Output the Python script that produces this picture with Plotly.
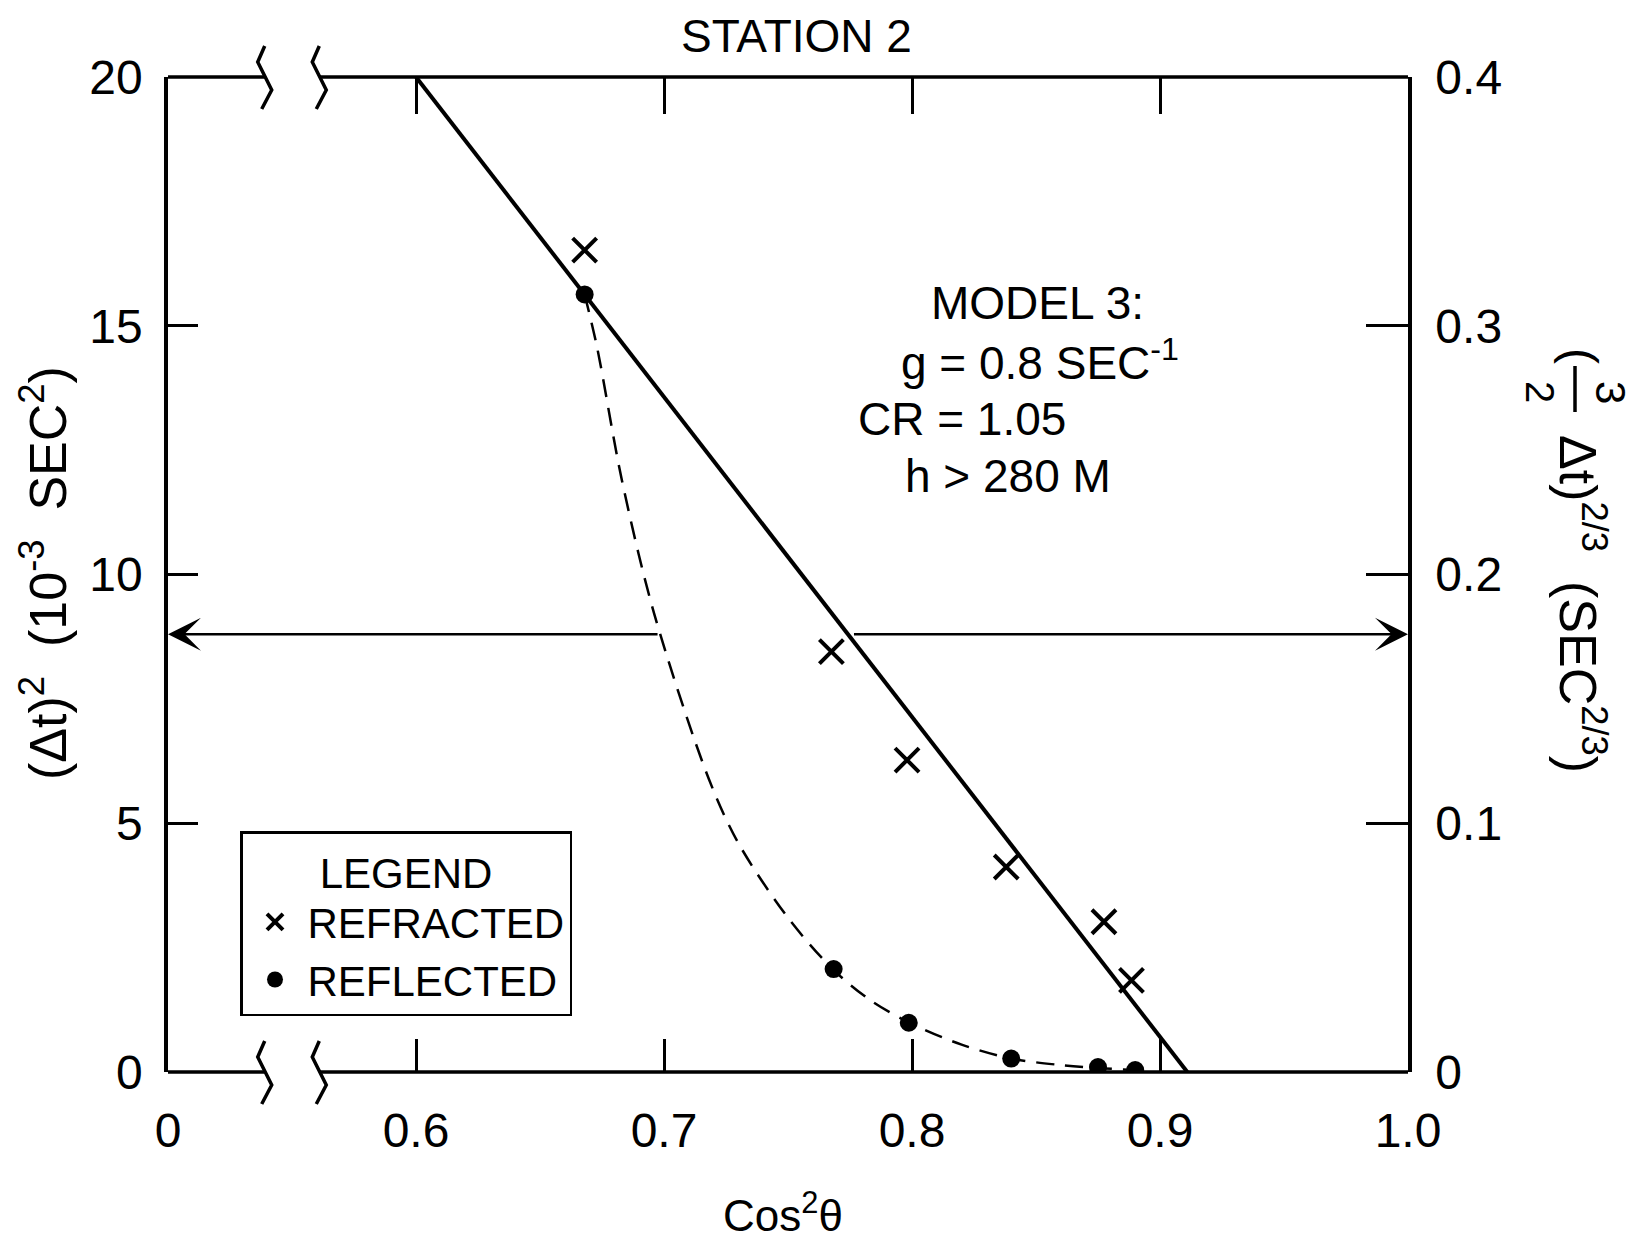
import plotly.graph_objects as go

# ---- data -------------------------------------------------------------
# Refracted arrivals (x marks)
refr_x = [0.668, 0.7675, 0.798, 0.838, 0.8774, 0.8885]
refr_y = [16.52, 8.45, 6.27, 4.12, 3.02, 1.84]

# Reflected arrivals (dots)
refl_x = [0.668, 0.7684, 0.7987, 0.840, 0.875, 0.890]
refl_y = [15.63, 2.07, 0.99, 0.27, 0.10, 0.04]

# Model curve for the reflected arrivals (dashed)
model_x = [0.668, 0.673, 0.683, 0.696, 0.718, 0.730, 0.750, 0.768,
           0.783, 0.799, 0.820, 0.840, 0.860, 0.875, 0.890]
model_y = [15.63, 14.57, 11.90, 9.22, 5.90, 4.60, 3.10, 2.07,
           1.45, 0.99, 0.55, 0.27, 0.14, 0.08, 0.04]

# Straight line through the refracted arrivals
fit_x = [0.6, 0.911]
fit_y = [20.0, 0.0]

# Reference level marked with arrows to both axes
level_y = 8.8
level_left_end = 0.698
level_right_start = 0.776

# Axes
x_tick_vals = [0.5, 0.6, 0.7, 0.8, 0.9, 1.0]
x_tick_text = ["0", "0.6", "0.7", "0.8", "0.9", "1.0"]
x_top_ticks = [0.6, 0.7, 0.8, 0.9]
y_tick_vals = [0, 5, 10, 15, 20]
y2_tick_vals = [0, 0.1, 0.2, 0.3, 0.4]
y2_tick_text = ["0", "0.1", "0.2", "0.3", "0.4"]
x_break = [0.539, 0.561]

# ---- geometry helpers --------------------------------------------------
W, H = 1648, 1241
L, R, T, B = 168, 240, 77, 169
PW, PH = W - L - R, H - T - B


def px(x):
    return (x - L) / PW


def py(y):
    return (H - B - y) / PH


FONT = "Liberation Sans, Arial, sans-serif"
INK = "black"

fig = go.Figure()

fig.add_trace(go.Scatter(
    x=fit_x, y=fit_y, mode="lines", line=dict(color=INK, width=4),
    showlegend=False, hoverinfo="skip"))

fig.add_trace(go.Scatter(
    x=model_x, y=model_y, mode="lines",
    line=dict(color=INK, width=2.5, dash="18px,11px", shape="spline", smoothing=0.9),
    showlegend=False, hoverinfo="skip"))

fig.add_trace(go.Scatter(
    x=refr_x, y=refr_y, mode="markers", name="REFRACTED",
    marker=dict(symbol="x-thin", size=24, color=INK, line=dict(color=INK, width=4))))

fig.add_trace(go.Scatter(
    x=refl_x, y=refl_y, mode="markers", name="REFLECTED",
    marker=dict(symbol="circle", size=18, color=INK)))

# empty traces so the top and right axes are drawn
fig.add_trace(go.Scatter(x=[None], y=[None], xaxis="x2", yaxis="y",
                         showlegend=False, hoverinfo="skip"))
fig.add_trace(go.Scatter(x=[None], y=[None], xaxis="x", yaxis="y2",
                         showlegend=False, hoverinfo="skip"))

shapes = []
# broken top and bottom axis lines
for yy in (0, 1):
    shapes.append(dict(type="line", xref="x", yref="paper", x0=0.5, x1=x_break[0],
                       y0=yy, y1=yy, line=dict(color=INK, width=3.5)))
    shapes.append(dict(type="line", xref="x", yref="paper", x0=x_break[1], x1=1.0,
                       y0=yy, y1=yy, line=dict(color=INK, width=3.5)))
    for xb in x_break:
        shapes.append(dict(type="path", xref="x", yref="paper",
                           xsizemode="pixel", ysizemode="pixel",
                           xanchor=xb, yanchor=yy,
                           path="M0,31 L-7,15 L7,-13 L-3,-32",
                           line=dict(color=INK, width=3.5)))

annotations = []
# double arrow at the reference level
annotations.append(dict(x=0.5, y=level_y, ax=level_left_end, ay=level_y,
                        xref="x", yref="y", axref="x", ayref="y", text="",
                        showarrow=True, arrowhead=3, arrowsize=2.2, arrowwidth=2.5,
                        arrowcolor=INK, standoff=0))
annotations.append(dict(x=1.0, y=level_y, ax=level_right_start, ay=level_y,
                        xref="x", yref="y", axref="x", ayref="y", text="",
                        showarrow=True, arrowhead=3, arrowsize=2.2, arrowwidth=2.5,
                        arrowcolor=INK, standoff=0))


def label(text, x, y, size, angle=0):
    annotations.append(dict(text=text, x=px(x), y=py(y), xref="paper", yref="paper",
                            showarrow=False, xanchor="center", yanchor="middle",
                            textangle=angle, font=dict(family=FONT, size=size, color=INK)))


label("STATION 2", 797, 36, 46)
label("Cos<sup>2</sup>θ", 783, 1212, 44)

# model parameters
label("MODEL 3:", 1037, 303, 46)
label("g = 0.8 SEC<sup>-1</sup>", 1040, 360, 46)
label("CR = 1.05", 962, 419, 46)
label("h > 280 M", 1008, 476, 46)

# left axis title
label("(Δt)<sup>2</sup>  (10<sup>-3</sup>  SEC<sup>2</sup>)", 44, 573, 52, -90)

# right axis title: ( 3/2 Δt)^(2/3) (SEC^(2/3))
label("(", 1580, 356, 48, 90)
label("3", 1611, 392, 42, 90)
label("2", 1540, 392, 40, 90)
shapes.append(dict(type="line", xref="paper", yref="paper",
                   x0=px(1575), x1=px(1575), y0=py(366), y1=py(412),
                   line=dict(color=INK, width=3.5)))
label("Δt)<sup>2/3</sup>  (SEC<sup>2/3</sup>)", 1582, 604, 52, 90)

axis_common = dict(showgrid=False, zeroline=False, ticks="inside", tickwidth=3,
                   tickcolor=INK, tickfont=dict(family=FONT, size=48, color=INK))

fig.update_layout(
    width=W, height=H,
    margin=dict(l=L, r=R, t=T, b=B, pad=0),
    paper_bgcolor="white", plot_bgcolor="white",
    font=dict(family=FONT, color=INK),
    xaxis=dict(range=[0.5, 1.0], tickvals=x_tick_vals, ticktext=x_tick_text,
               ticklen=33, showline=False, ticklabelstandoff=26, **axis_common),
    xaxis2=dict(range=[0.5, 1.0], overlaying="x", side="top", anchor="y",
                tickvals=x_top_ticks, ticklen=37, showticklabels=False,
                showline=False, **axis_common),
    yaxis=dict(range=[0, 20], tickvals=y_tick_vals, ticklen=30, showline=True,
               linewidth=3.5, linecolor=INK, ticklabelstandoff=12, **axis_common),
    yaxis2=dict(range=[0, 0.4], overlaying="y", side="right", anchor="x",
                tickvals=y2_tick_vals, ticktext=y2_tick_text, ticklen=42,
                showline=True, linewidth=3.5, linecolor=INK,
                ticklabelstandoff=14, **axis_common),
    legend=dict(x=px(240), y=py(831), xanchor="left", yanchor="top",
                bgcolor="white", bordercolor=INK, borderwidth=2.5,
                font=dict(family=FONT, size=42, color=INK),
                title=dict(text="LEGEND", side="top center",
                           font=dict(family=FONT, size=42, color=INK)),
                itemsizing="trace", itemwidth=55, entrywidth=290,
                tracegroupgap=0),
    shapes=shapes,
    annotations=annotations,
)

fig.write_html("out.html")
